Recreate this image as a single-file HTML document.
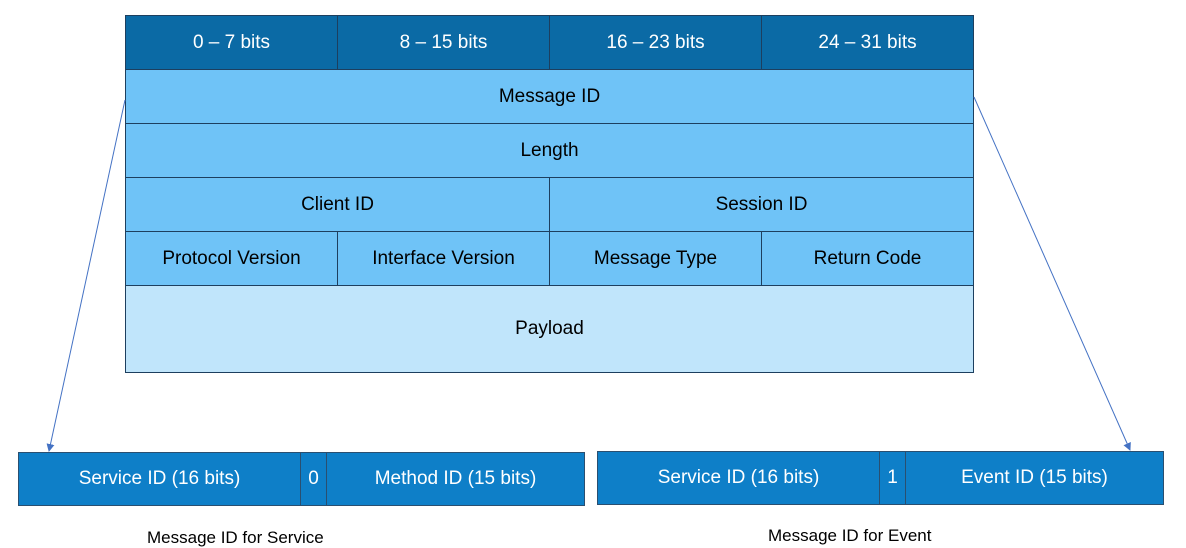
<!DOCTYPE html><html><head><style>
body{margin:0;width:1186px;height:536px;background:#fff;position:relative;overflow:hidden;font-family:"Liberation Sans",sans-serif}
.b{position:absolute;box-sizing:border-box;border:1.5px solid #1d3f5f;display:flex;align-items:center;justify-content:center;font-size:19px;color:#000}
.h{background:#0b6aa5;color:#fff}
.l{background:#6fc3f7}
.p{background:#c0e5fb}
.d{background:#0e7fc8;color:#fff;border-color:#2a4f70}
.c{position:absolute;font-size:17px;color:#000}
</style></head><body>
<div class="b h" style="left:125px;top:15px;width:213px;height:55px">0 – 7 bits</div>
<div class="b h" style="left:337px;top:15px;width:213px;height:55px">8 – 15 bits</div>
<div class="b h" style="left:549px;top:15px;width:213px;height:55px">16 – 23 bits</div>
<div class="b h" style="left:761px;top:15px;width:213px;height:55px">24 – 31 bits</div>
<div class="b l" style="left:125px;top:69px;width:849px;height:55px">Message ID</div>
<div class="b l" style="left:125px;top:123px;width:849px;height:55px">Length</div>
<div class="b l" style="left:125px;top:177px;width:425px;height:55px">Client ID</div>
<div class="b l" style="left:549px;top:177px;width:425px;height:55px">Session ID</div>
<div class="b l" style="left:125px;top:231px;width:213px;height:55px">Protocol Version</div>
<div class="b l" style="left:337px;top:231px;width:213px;height:55px">Interface Version</div>
<div class="b l" style="left:549px;top:231px;width:213px;height:55px">Message Type</div>
<div class="b l" style="left:761px;top:231px;width:213px;height:55px">Return Code</div>
<div class="b p" style="left:125px;top:285px;width:849px;height:88px">Payload</div>

<div class="b d" style="left:18px;top:452px;width:283px;height:54px">Service ID (16 bits)</div>
<div class="b d" style="left:300px;top:452px;width:27px;height:54px">0</div>
<div class="b d" style="left:326px;top:452px;width:259px;height:54px">Method ID (15 bits)</div>
<div class="b d" style="left:597px;top:451px;width:283px;height:54px">Service ID (16 bits)</div>
<div class="b d" style="left:879px;top:451px;width:27px;height:54px">1</div>
<div class="b d" style="left:905px;top:451px;width:259px;height:54px">Event ID (15 bits)</div>

<div class="c" style="left:147px;top:528px">Message ID for Service</div>
<div class="c" style="left:768px;top:526px">Message ID for Event</div>

<svg width="1186" height="536" style="position:absolute;left:0;top:0" viewBox="0 0 1186 536">
<defs><marker id="a" markerWidth="8" markerHeight="8" refX="7" refY="4" orient="auto" markerUnits="userSpaceOnUse"><path d="M0,0 L8,4 L0,8z" fill="#4472c4"/></marker></defs>
<line x1="125" y1="100" x2="49" y2="451" stroke="#4472c4" stroke-width="1" marker-end="url(#a)"/>
<line x1="974" y1="97" x2="1130" y2="450" stroke="#4472c4" stroke-width="1" marker-end="url(#a)"/>
</svg>
</body></html>
